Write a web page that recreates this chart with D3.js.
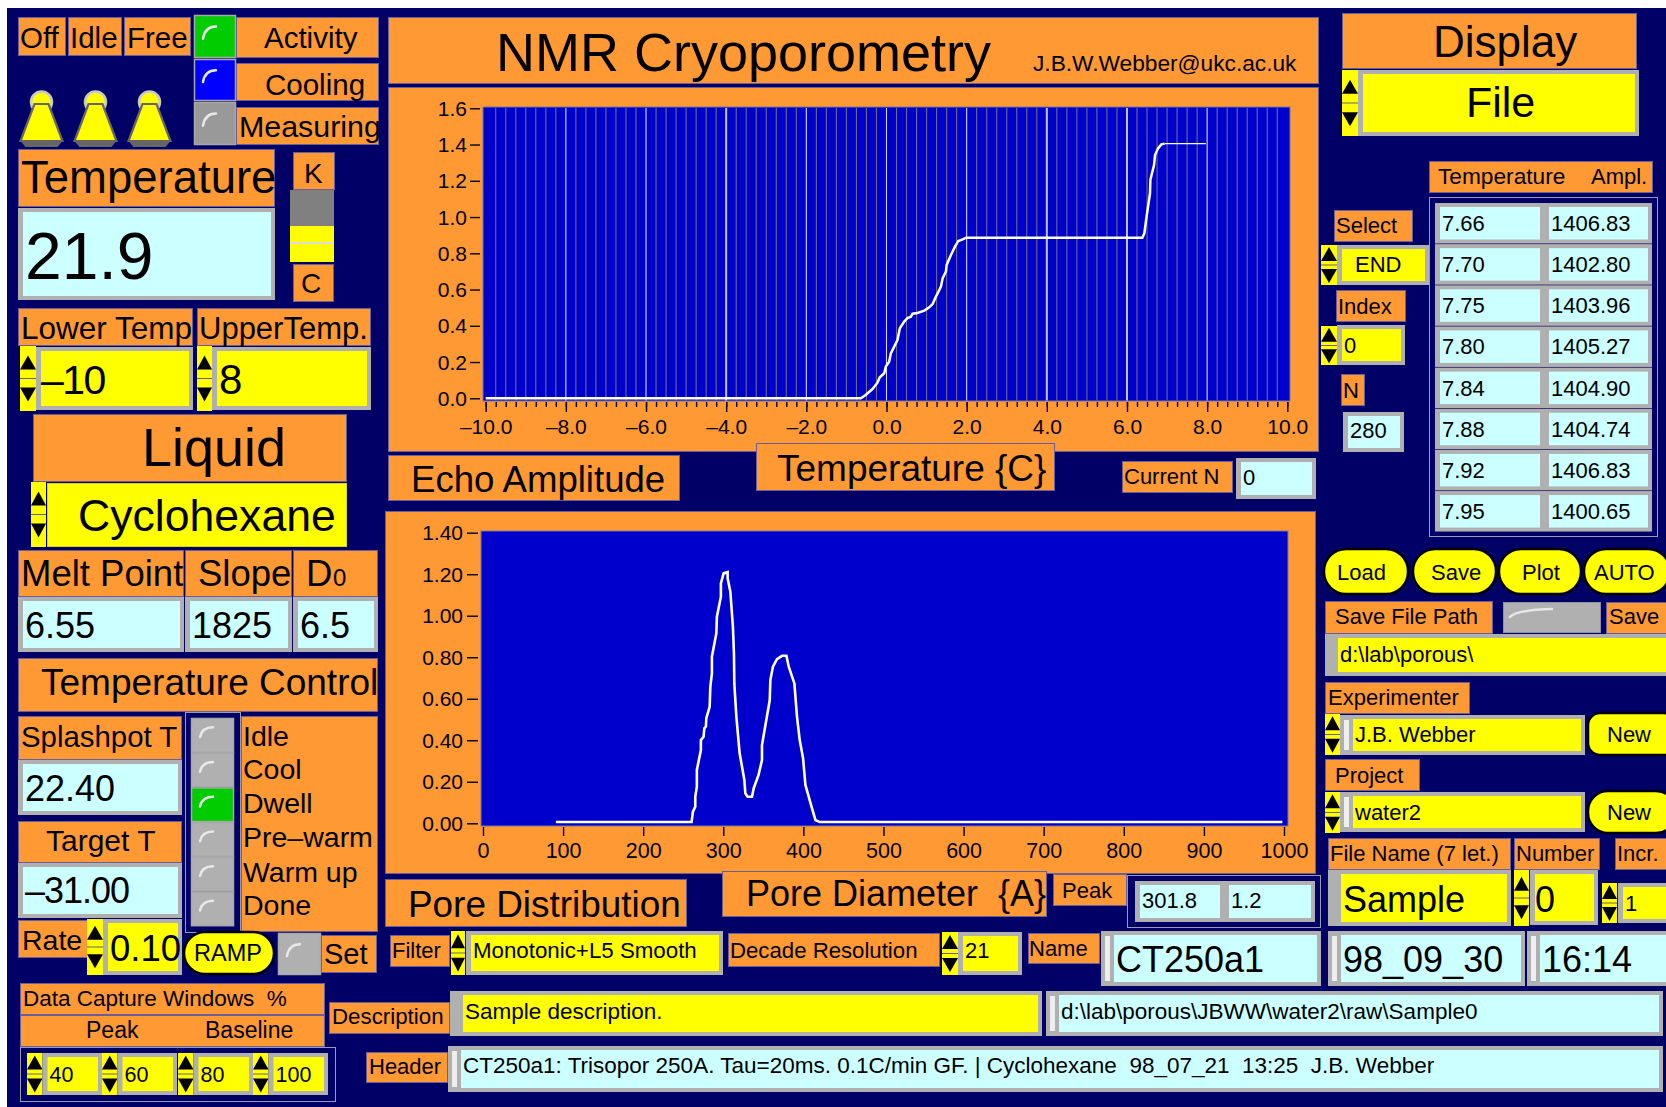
<!DOCTYPE html>
<html>
<head>
<meta charset="utf-8">
<title>NMR Cryoporometry</title>
<script src="https://cdn.jsdelivr.net/npm/d3@7"></script>
<style>
  html, body { margin: 0; padding: 0; background: #fff; overflow: hidden; }
  svg { display: block; }
  text { font-family: "Liberation Sans", Arial, sans-serif; fill: #000; white-space: pre; }
</style>
</head>
<body>
<div id="panel"></div>
<script>
// Melting curve: temperature (C) against echo amplitude
const tempX = [-10, -0.64, -0.52, -0.35, -0.225, -0.167, -0.058, -0.017, 0.067, 0.108, 0.192, 0.275, 0.333, 0.442, 0.525, 0.608, 0.65, 0.775, 0.942, 1.067, 1.15, 1.233, 1.3, 1.358, 1.4, 1.483, 1.5, 1.608, 1.708, 1.792, 1.9, 1.983, 6.383, 6.433, 6.483, 6.525, 6.575, 6.583, 6.675, 6.7, 6.775, 6.858, 6.94];
const tempY = [0, 0, 0.018, 0.051, 0.086, 0.116, 0.138, 0.175, 0.202, 0.248, 0.285, 0.322, 0.386, 0.423, 0.443, 0.45, 0.467, 0.471, 0.484, 0.502, 0.52, 0.561, 0.589, 0.616, 0.662, 0.699, 0.736, 0.791, 0.837, 0.868, 0.877, 0.886, 0.886, 0.91, 0.993, 1.057, 1.131, 1.205, 1.287, 1.342, 1.379, 1.401, 1.405];
const tailX = [6.94, 7.967];
const tailY = [1.405, 1.405];

// Pore size distribution: diameter (A) against amplitude
const poreX = [91, 260.4, 262.1, 265, 265, 267, 267, 272, 272, 275.4, 276.3, 278.3, 278.8, 283, 283.8, 285.8, 285.8, 291.3, 292, 297, 297, 300.4, 305.4, 305.4, 308.8, 312, 313.3, 313.75, 316.3, 320.4, 326.3, 327.5, 330.4, 335.8, 338, 344, 348.3, 348.3, 358, 358.75, 362, 367, 373.3, 378.8, 381.7, 388.75, 392, 395.4, 399.6, 402.5, 409.6, 415, 420.4, 998];
const poreY = [0.006, 0.006, 0.056, 0.08, 0.128, 0.177, 0.257, 0.353, 0.401, 0.417, 0.458, 0.466, 0.506, 0.562, 0.658, 0.722, 0.803, 0.915, 0.995, 1.092, 1.156, 1.204, 1.21, 1.18, 1.116, 0.947, 0.819, 0.674, 0.514, 0.337, 0.209, 0.144, 0.128, 0.128, 0.169, 0.233, 0.305, 0.377, 0.594, 0.69, 0.755, 0.791, 0.807, 0.807, 0.755, 0.674, 0.514, 0.401, 0.313, 0.185, 0.088, 0.016, 0.006, 0.006];

// Axis ticks
const tempXTicks = [-10, -8, -6, -4, -2, 0, 2, 4, 6, 8, 10];
const tempYTicks = [0, 0.2, 0.4, 0.6, 0.8, 1.0, 1.2, 1.4, 1.6];
const poreXTicks = [0, 100, 200, 300, 400, 500, 600, 700, 800, 900, 1000];
const poreYTicks = [0, 0.2, 0.4, 0.6, 0.8, 1.0, 1.2, 1.4];

// Readout table
const tableTemps = ["7.66", "7.70", "7.75", "7.80", "7.84", "7.88", "7.92", "7.95"];
const tableAmps = ["1406.83", "1402.80", "1403.96", "1405.27", "1404.90", "1404.74", "1406.83", "1400.65"];

// Lists of states down the left side
const stateNames = ["Idle", "Cool", "Dwell", "Pre–warm", "Warm up", "Done"];
const captureWindows = ["40", "60", "80", "100"];

const ORANGE = "#ff9933", NAVY = "#000066", YELLOW = "#ffff00", CYAN = "#ccffff", GREY = "#b0b0b0", PLOT = "#0000cc";

const svg = d3.select("#panel").append("svg")
    .attr("width", 1666)
    .attr("height", 1107);

svg.append("rect").attr("x", 7).attr("y", 8).attr("width", 1659).attr("height", 1099).attr("fill", NAVY);

function txt(x, y, s, size) {
    return svg.append("text").attr("x", x).attr("y", y).style("font-size", size + "px").text(s);
}

// Orange caption box
function label(x0, y0, x1, y1, s, tx, base, size) {
    svg.append("rect")
        .attr("x", x0 + 0.5).attr("y", y0 + 0.5)
        .attr("width", x1 - x0 - 1).attr("height", y1 - y0 - 1)
        .attr("fill", ORANGE).attr("stroke", "#6a5f9a").attr("stroke-width", 1);
    if (s) txt(tx, base, s, size);
}

// Grey framed control or indicator; stripe "white" or "grey" widens the left edge
function field(x0, y0, x1, y1, fill, s, base, size, stripe) {
    const left = stripe ? 13 : 5;
    svg.append("rect").attr("x", x0).attr("y", y0).attr("width", x1 - x0).attr("height", y1 - y0).attr("fill", GREY);
    svg.append("rect").attr("x", x0 + left).attr("y", y0 + 4).attr("width", x1 - x0 - left - 4).attr("height", y1 - y0 - 8).attr("fill", fill);
    if (stripe === "white") svg.append("rect").attr("x", x0 + 4).attr("y", y0 + 5).attr("width", 5).attr("height", y1 - y0 - 10).attr("fill", "#eee");
    if (s) txt(x0 + left + 2, base, s, size);
}

// Up/down arrows of a numeric control
function spinner(x0, y0, x1, y1) {
    const h = y1 - y0, mid = (y0 + y1) / 2, off = h * 0.2 - 4;
    svg.append("rect").attr("x", x0).attr("y", y0).attr("width", x1 - x0).attr("height", h).attr("fill", YELLOW);
    svg.append("path").attr("fill", "#000")
        .attr("d", `M${x0},${mid - off}L${x1},${mid - off}L${(x0 + x1) / 2},${mid - off - 14}Z`);
    svg.append("path").attr("fill", "#000")
        .attr("d", `M${x0},${mid + off}L${x1},${mid + off}L${(x0 + x1) / 2},${mid + off + 14}Z`);
    svg.append("line").attr("x1", x0).attr("x2", x1).attr("y1", mid).attr("y2", mid).attr("stroke", "#666").attr("stroke-width", 1);
}

// Square LED with the little highlight arc
function led(x0, y0, x1, y1, fill) {
    const w = x1 - x0, h = y1 - y0, ax = x0 + 9, ay = y0 + h * 0.55, bx = x0 + 22, by = y0 + h * 0.27;
    svg.append("rect").attr("x", x0 + 0.5).attr("y", y0 + 0.5).attr("width", w - 1).attr("height", h - 1)
        .attr("fill", fill).attr("stroke", "#a8a8a8").attr("stroke-width", 1.5);
    svg.append("path").attr("d", `M${ax},${ay}Q${ax + 2},${by} ${bx},${by}`)
        .attr("fill", "none").attr("stroke", "#e8e8e8").attr("stroke-width", 2.5).attr("stroke-linecap", "round");
}

function pill(x0, y0, x1, y1, s, tx, base, size, r) {
    svg.append("rect").attr("x", x0).attr("y", y0).attr("width", x1 - x0).attr("height", y1 - y0)
        .attr("rx", r).attr("ry", r)
        .attr("fill", YELLOW).attr("stroke", "#000").attr("stroke-width", 2.5);
    txt(tx, base, s, size);
}

function flask(cx) {
    svg.append("circle").attr("cx", cx).attr("cy", 102).attr("r", 10.5)
        .attr("fill", YELLOW).attr("stroke", "#c8c8c8").attr("stroke-width", 2.5);
    svg.append("path").attr("d", `M${cx - 21},141L${cx + 21},141L${cx + 16},147L${cx - 16},147Z`).attr("fill", "#666");
    svg.append("path").attr("d", `M${cx - 7},104L${cx + 7},104L${cx + 21},141L${cx - 21},141Z`)
        .attr("fill", YELLOW).attr("stroke", "#666").attr("stroke-width", 2.2);
}

// ---- top left: activity block ----
label(18, 17, 66, 56, "Off", 20, 48, 29.5);
label(68, 17, 122, 56, "Idle", 70, 48, 29.5);
label(124, 17, 191, 56, "Free", 127, 48, 29.5);
led(194, 15, 236, 58, "#00cc00");
led(194, 59, 236, 101, "#0000ff");
led(194, 102, 236, 145, "#999999");
label(236, 17, 379, 58, "Activity", 264, 48, 29.5);
label(236, 63, 379, 101, "Cooling", 265, 95, 29.5);
label(236, 107, 379, 145, "Measuring", 239, 137, 30.4);
[41.5, 95.5, 149.5].forEach(flask);

label(18, 149, 275, 207, "Temperature", 21, 193, 45.5);
field(18, 208, 275, 300, CYAN, "21.9", 279, 66);
label(293, 152, 335, 190, "K", 304, 183, 28);
svg.append("rect").attr("x", 290).attr("y", 190).attr("width", 44).attr("height", 36).attr("fill", "#808080");
svg.append("rect").attr("x", 290).attr("y", 226).attr("width", 44).attr("height", 36).attr("fill", YELLOW);
svg.append("rect").attr("x", 290).attr("y", 242).attr("width", 44).attr("height", 2).attr("fill", "#ddd");
label(293, 264, 334, 302, "C", 301, 293, 28);

// ---- temperature limits and liquid ----
label(18, 308, 193, 346, "Lower Temp", 21, 339, 31.5);
label(197, 308, 371, 346, "UpperTemp.", 199, 339, 31);
spinner(20, 346, 36, 411);
field(36, 347, 193, 410, YELLOW, "", 0, 0);
txt(41, 394, "–10", 41).style("letter-spacing", "-1.5px");
spinner(197, 346, 212, 411);
field(212, 347, 371, 410, YELLOW, "8", 394, 42);
label(33, 414, 347, 482, "Liquid", 142, 466, 54);
spinner(31, 482, 46, 547);
svg.append("rect").attr("x", 47.5).attr("y", 483.5).attr("width", 299).attr("height", 63)
    .attr("fill", YELLOW).attr("stroke", "#d8d800").attr("stroke-width", 1);
txt(78, 531, "Cyclohexane", 44.6);

label(18, 550, 184, 597, "Melt Point", 21, 586, 36.5);
label(185, 550, 292, 597, "Slope", 198, 586, 36.5);
label(293, 550, 378, 597, "D", 306, 586, 36.5);
txt(333, 586, "0", 24);
field(18, 597, 184, 652, CYAN, "6.55", 638, 36);
field(185, 597, 292, 652, CYAN, "1825", 638, 36);
field(293, 597, 378, 652, CYAN, "6.5", 638, 36);
label(18, 658, 378, 712, "Temperature Control", 41, 695, 37);

// ---- temperature control states ----
label(18, 716, 182, 760, "Splashpot T", 21, 747, 29.4);
field(18, 760, 182, 815, CYAN, "22.40", 801, 36);
label(18, 821, 182, 863, "Target T", 46, 851, 30);
field(18, 863, 182, 918, CYAN, "", 0, 0);
txt(25, 903, "–31.00", 36).style("letter-spacing", "-1px");
svg.append("rect").attr("x", 185.5).attr("y", 712.5).attr("width", 55).attr("height", 220)
    .attr("fill", NAVY).attr("stroke", "#9a9ab0").attr("stroke-width", 1);
label(241, 716, 378, 932, "", 0, 0, 0);
const stateBase = [746, 779, 813, 847, 882, 915];
stateNames.forEach((s, i) => {
    led(191, 718 + i * 34.7, 234, 718 + (i + 1) * 34.7, s === "Dwell" ? "#00cc00" : GREY);
    txt(243, stateBase[i], s, 28.5);
});

label(18, 920, 88, 958, "Rate", 22, 950, 28.5);
spinner(87, 919, 103, 975);
field(103, 919, 182, 975, YELLOW, "0.10", 961, 36.5);
pill(184, 932, 274, 974, "RAMP", 194, 961, 23.5, 21);
led(278, 933, 321, 975, GREY);
label(321, 935, 377, 973, "Set", 324, 964, 29);

// ---- data capture windows ----
label(20, 983, 325, 1015, "Data Capture Windows  %", 23, 1006, 22.5);
label(20, 1015, 325, 1047, "Peak", 86, 1038, 23);
txt(205, 1038, "Baseline", 23);
svg.append("rect").attr("x", 20.5).attr("y", 1047.5).attr("width", 315).attr("height", 54)
    .attr("fill", "none").attr("stroke", "#9a9ab0").attr("stroke-width", 1);
const captureLeft = [27, 102, 178, 253];
captureWindows.forEach((s, i) => {
    const sx = captureLeft[i];
    spinner(sx, 1053, sx + 15.5, 1095);
    field(sx + 15.5, 1053, sx + 75, 1095, YELLOW, s, 1082, 21.5);
});

label(329, 1002, 450, 1034, "Description", 332, 1024, 22.3);
field(450, 991, 1042, 1036, YELLOW, "Sample description.", 1019, 22.5, "grey");
field(1046, 991, 1663, 1036, CYAN, "d:\\lab\\porous\\JBWW\\water2\\raw\\Sample0", 1019, 22.5, "white");
label(366, 1052, 448, 1083, "Header", 369, 1074, 22);
field(448, 1046, 1663, 1092, CYAN, "CT250a1: Trisopor 250A. Tau=20ms. 0.1C/min GF. | Cyclohexane  98_07_21  13:25  J.B. Webber", 1073, 22.5, "white");

// ---- centre column panels ----
label(388, 17, 1319, 84, "NMR Cryoporometry", 496, 71, 54);
txt(1033, 71, "J.B.W.Webber@ukc.ac.uk", 22.7);
label(388, 87, 1319, 452, "", 0, 0, 0);
label(385, 511, 1316, 874, "", 0, 0, 0);

// Melting curve chart
const tempScaleX = d3.scaleLinear().domain([-10, 10]).range([485.7, 1287.3]);
const tempScaleY = d3.scaleLinear().domain([0, 1.6]).range([398.3, 108.3]);
const poreScaleX = d3.scaleLinear().domain([0, 1000]).range([483, 1284]);
const poreScaleY = d3.scaleLinear().domain([0, 1.4]).range([823.3, 532.7]);

function axisText(g, size) {
    g.select(".domain").remove();
    g.selectAll("line").attr("stroke", "#000").attr("stroke-width", 1.4);
    g.selectAll("text").style("font-size", size + "px").attr("fill", "#000");
}

svg.append("rect").attr("x", 483).attr("y", 107).attr("width", 807).attr("height", 294)
    .attr("fill", PLOT).attr("stroke", "#7a7a9a").attr("stroke-width", 1);

const minorTemps = d3.range(81).map(i => -10 + i * 0.25);
svg.append("g").selectAll("line")
    .data(minorTemps.filter(t => t > -10 && t < 10))
    .join("line")
    .attr("x1", d => tempScaleX(d)).attr("x2", d => tempScaleX(d))
    .attr("y1", 108).attr("y2", 400.5)
    .attr("stroke", d => d % 2 === 0 ? (d === -4 || d === 4 || d === 6 ? "#c4c4cc" : "#d8d8ff") : "#6c6c88")
    .attr("stroke-width", d => d === -4 || d === 4 || d === 6 ? 2 : 1.1);

svg.append("g").attr("transform", "translate(0,402)")
    .call(d3.axisBottom(tempScaleX).tickValues(minorTemps).tickSize(5).tickFormat(""))
    .call(g => axisText(g, 21));
svg.append("g").attr("transform", "translate(0,402)")
    .call(d3.axisBottom(tempScaleX).tickValues(tempXTicks).tickSize(10)
        .tickFormat(d => d3.format(".1f")(d).replace("−", "–")))
    .call(g => axisText(g, 21))
    .call(g => g.selectAll("text").attr("y", 32).attr("dy", 0));
svg.append("g").attr("transform", "translate(480,0)")
    .call(d3.axisLeft(tempScaleY).tickValues(tempYTicks).tickSize(10).tickPadding(3).tickFormat(d3.format(".1f")))
    .call(g => axisText(g, 21))
    .call(g => g.selectAll("text").attr("dy", 7));

const tempLine = d3.line().x(d => tempScaleX(d[0])).y(d => tempScaleY(d[1]));
svg.append("path").attr("d", tempLine(tempX.map((t, i) => [t, tempY[i]])))
    .attr("fill", "none").attr("stroke", "#fff").attr("stroke-width", 2.5);
svg.append("path").attr("d", tempLine(tailX.map((t, i) => [t, tailY[i]])))
    .attr("fill", "none").attr("stroke", "#fff").attr("stroke-width", 1.3);

label(388, 455, 680, 501, "Echo Amplitude", 411, 492, 36.6);
label(756, 443, 1055, 491, "Temperature {C}", 777, 481, 37);
label(1122, 461, 1233, 493, "Current N", 1124, 484, 22);
field(1236, 458, 1316, 499, CYAN, "0", 485, 22);

// Pore distribution chart
svg.append("rect").attr("x", 481).attr("y", 531).attr("width", 807).attr("height", 295)
    .attr("fill", PLOT).attr("stroke", "#7a7a9a").attr("stroke-width", 1);
svg.append("g").attr("transform", "translate(0,827)")
    .call(d3.axisBottom(poreScaleX).tickValues(poreXTicks).tickSize(9).tickFormat(d3.format("d")))
    .call(g => axisText(g, 21.5))
    .call(g => g.selectAll("text").attr("y", 31).attr("dy", 0));
svg.append("g").attr("transform", "translate(478,0)")
    .call(d3.axisLeft(poreScaleY).tickValues(poreYTicks).tickSize(11).tickPadding(4).tickFormat(d3.format(".2f")))
    .call(g => axisText(g, 21))
    .call(g => g.selectAll("text").attr("dy", 7));
const poreLine = d3.line().x(d => poreScaleX(d[0])).y(d => poreScaleY(d[1]));
svg.append("path").attr("d", poreLine(poreX.map((t, i) => [t, poreY[i]])))
    .attr("fill", "none").attr("stroke", "#fff").attr("stroke-width", 2.6);

label(385, 879, 687, 927, "Pore Distribution", 408, 917, 36.9);
label(722, 871, 1047, 917, "Pore Diameter  {A}", 746, 906, 36);
label(1053, 874, 1127, 906, "Peak", 1062, 898, 22);
svg.append("rect").attr("x", 1127.5).attr("y", 875.5).attr("width", 193).attr("height", 52)
    .attr("fill", NAVY).attr("stroke", "#9a9ab0").attr("stroke-width", 1);
field(1135, 881, 1224, 922, CYAN, "301.8", 908, 22);
field(1224, 881, 1315, 922, CYAN, "1.2", 908, 22);

label(390, 935, 450, 967, "Filter", 392, 958, 22);
spinner(451, 931, 465, 975);
field(466, 931, 723, 975, YELLOW, "Monotonic+L5 Smooth", 958, 22.3);
label(728, 933, 940, 967, "Decade Resolution", 730, 958, 22.2);
spinner(942, 932, 958, 975);
field(958, 932, 1022, 975, YELLOW, "21", 958, 22);
label(1028, 933, 1100, 964, "Name", 1029, 956, 22);
field(1101, 931, 1321, 986, CYAN, "CT250a1", 972, 36, "white");
field(1328, 931, 1525, 986, CYAN, "98_09_30", 972, 36, "white");
field(1527, 931, 1672, 986, CYAN, "16:14", 972, 36, "white");

// ---- right column ----
label(1342, 13, 1637, 69, "Display", 1433, 57, 44);
spinner(1342, 70, 1358, 136);
field(1358, 70, 1639, 136, YELLOW, "", 0, 0);
txt(1466, 117, "File", 43);

label(1429, 161, 1653, 193, "Temperature", 1438, 184, 22.7);
txt(1591, 184, "Ampl.", 22);
svg.append("rect").attr("x", 1429.5).attr("y", 197.5).attr("width", 228).attr("height", 339)
    .attr("fill", "none").attr("stroke", "#9a9ab0").attr("stroke-width", 1);
tableTemps.forEach((t, i) => {
    const ty = 203 + i * 41.15;
    field(1435, ty, 1544, ty + 40.5, CYAN, t, ty + 28, 22);
    field(1544, ty, 1652, ty + 40.5, CYAN, tableAmps[i], ty + 28, 22);
});

label(1334, 210, 1413, 242, "Select", 1336, 233, 22);
spinner(1321, 245, 1337, 285);
field(1337, 245, 1429, 285, YELLOW, "", 0, 0);
txt(1355, 272, "END", 22);
label(1336, 290, 1406, 322, "Index", 1338, 314, 22);
spinner(1321, 326, 1337, 365);
field(1337, 325, 1405, 365, YELLOW, "0", 353, 22);
label(1341, 374, 1365, 406, "N", 1343, 398, 22);
field(1343, 412, 1404, 452, CYAN, "280", 438, 22);

pill(1324, 549, 1408, 594, "Load", 1337, 580, 22, 22);
pill(1413, 549, 1496, 594, "Save", 1431, 580, 22, 22);
pill(1499, 549, 1581, 594, "Plot", 1522, 580, 22, 22);
pill(1584, 549, 1670, 594, "AUTO", 1594, 580, 22, 22);

label(1325, 601, 1493, 634, "Save File Path", 1335, 624, 22);
svg.append("rect").attr("x", 1503.5).attr("y", 602.5).attr("width", 97).attr("height", 30)
    .attr("fill", GREY).attr("stroke", "#9090a8").attr("stroke-width", 1);
svg.append("path").attr("d", "M1510,617Q1516,610 1552,609")
    .attr("fill", "none").attr("stroke", "#e8e8e8").attr("stroke-width", 2.5).attr("stroke-linecap", "round");
label(1606, 602, 1667, 634, "Save", 1609, 624, 22);
field(1325, 634, 1672, 676, YELLOW, "d:\\lab\\porous\\", 662, 22, "grey");

label(1325, 682, 1470, 714, "Experimenter", 1328, 705, 22);
spinner(1325, 714, 1340, 755);
field(1340, 715, 1585, 755, YELLOW, "J.B. Webber", 742, 22, "white");
pill(1588, 713, 1676, 755, "New", 1607, 742, 22, 12);
label(1325, 759, 1420, 791, "Project", 1335, 783, 22);
spinner(1325, 792, 1340, 833);
field(1340, 792, 1585, 832, YELLOW, "water2", 820, 22, "white");
pill(1588, 791, 1676, 833, "New", 1607, 820, 22, 20);

label(1328, 838, 1511, 870, "File Name (7 let.)", 1330, 861, 22);
label(1514, 838, 1600, 870, "Number", 1516, 861, 22);
label(1615, 838, 1667, 870, "Incr.", 1617, 861, 22);
field(1328, 870, 1511, 926, YELLOW, "Sample", 912, 36, "grey");
spinner(1514, 870, 1529, 926);
field(1530, 870, 1598, 925, YELLOW, "", 0, 0);
txt(1535, 912, "0", 36);
spinner(1602, 883, 1617, 923);
field(1618, 883, 1672, 923, YELLOW, "1", 911, 22);
</script>
</body>
</html>
